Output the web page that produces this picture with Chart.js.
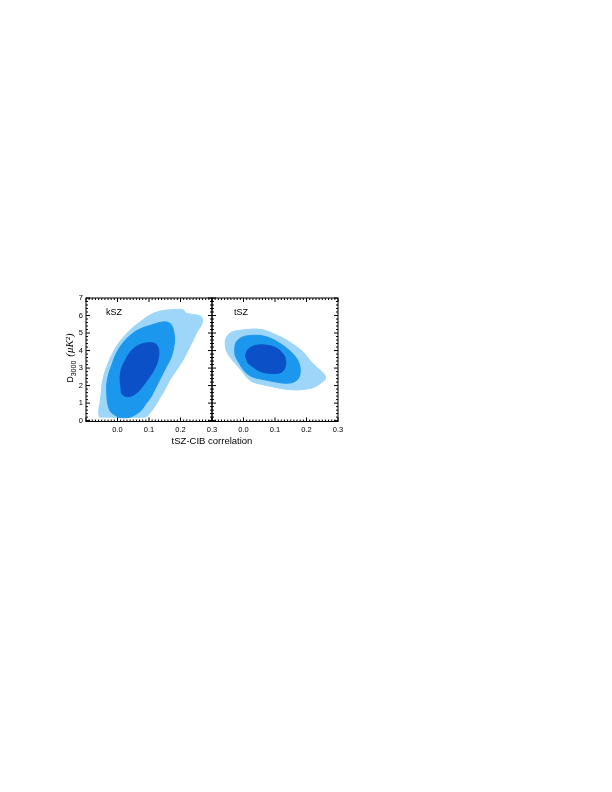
<!DOCTYPE html>
<html>
<head>
<meta charset="utf-8">
<script src="https://cdn.jsdelivr.net/npm/chart.js@4.4.1/dist/chart.umd.min.js"></script>
<style>
  html, body { margin: 0; padding: 0; background: #fff; }
  #wrap { position: relative; width: 612px; height: 792px; }
  canvas { position: absolute; left: 0; top: 0; }
</style>
</head>
<body>
<div id="wrap">
  <canvas id="leftPanel" width="612" height="792" style="width:612px;height:792px"></canvas>
  <canvas id="rightPanel" width="612" height="792" style="width:612px;height:792px"></canvas>
</div>
<script>
// ---------- axis / labels ----------
const xTicks = [-0.1, 0.0, 0.1, 0.2, 0.3];
const yTicks = [0, 1, 2, 3, 4, 5, 6, 7];
const panelLabels = ['kSZ', 'tSZ'];
const xTitle = 'tSZ-CIB correlation';
const yTitleMain = 'D', yTitleSub = '3000', yTitleUnit = '(\u03bcK\u00b2)';

// ---------- kSZ panel contours [x, y] ----------
const kszOuter = [
  [-0.058, 0.2], [-0.060, 0.58], [-0.056, 0.96], [-0.052, 1.53], [-0.049, 2.09],
  [-0.042, 2.66], [-0.031, 3.23], [-0.017, 3.79], [0.001, 4.36], [0.022, 4.83],
  [0.048, 5.30], [0.075, 5.68], [0.106, 6.06], [0.143, 6.28], [0.180, 6.34],
  [0.207, 6.34], [0.217, 6.15], [0.239, 6.06], [0.265, 5.96], [0.270, 5.68],
  [0.265, 5.40], [0.254, 5.11], [0.239, 4.55], [0.223, 3.98], [0.207, 3.42],
  [0.186, 2.85], [0.165, 2.28], [0.149, 1.72], [0.133, 1.25], [0.117, 0.77],
  [0.101, 0.40], [0.090, 0.2], [-0.058, 0.2]
];
const kszMiddle = [
  [0.006, 0.17], [-0.021, 0.49], [-0.031, 0.96], [-0.034, 1.53], [-0.034, 2.09],
  [-0.028, 2.66], [-0.017, 3.23], [-0.005, 3.79], [0.014, 4.36], [0.038, 4.83],
  [0.069, 5.21], [0.106, 5.45], [0.149, 5.64], [0.170, 5.49], [0.180, 4.92],
  [0.180, 4.36], [0.170, 3.60], [0.154, 3.04], [0.138, 2.47], [0.122, 1.91],
  [0.106, 1.34], [0.090, 0.96], [0.075, 0.58], [0.053, 0.30], [0.032, 0.17],
  [0.006, 0.17]
];
const kszInner = [
  [0.011, 1.91], [0.008, 2.47], [0.014, 3.04], [0.027, 3.51], [0.043, 3.98],
  [0.069, 4.32], [0.101, 4.45], [0.122, 4.36], [0.131, 3.98], [0.128, 3.42],
  [0.117, 2.94], [0.101, 2.47], [0.085, 2.09], [0.069, 1.72], [0.048, 1.43],
  [0.027, 1.38], [0.014, 1.53], [0.011, 1.91]
];

// ---------- tSZ panel contours [x, y] ----------
const tszOuter = [
  [-0.058, 4.55], [-0.052, 4.83], [-0.037, 5.06], [-0.015, 5.15], [0.016, 5.21],
  [0.043, 5.23], [0.069, 5.15], [0.101, 4.92], [0.133, 4.64], [0.165, 4.26],
  [0.191, 3.89], [0.212, 3.42], [0.239, 2.94], [0.258, 2.62], [0.260, 2.38],
  [0.249, 2.19], [0.228, 1.94], [0.202, 1.81], [0.165, 1.75], [0.128, 1.81],
  [0.090, 1.94], [0.059, 2.06], [0.022, 2.28], [-0.015, 3.04], [-0.042, 3.60],
  [-0.056, 4.08], [-0.058, 4.55]
];
const tszMiddle = [
  [-0.028, 4.08], [-0.024, 4.45], [-0.007, 4.74], [0.016, 4.85], [0.048, 4.87],
  [0.080, 4.74], [0.112, 4.45], [0.141, 4.08], [0.165, 3.64], [0.177, 3.23],
  [0.180, 2.75], [0.173, 2.38], [0.154, 2.17], [0.122, 2.15], [0.090, 2.25],
  [0.059, 2.36], [0.027, 2.51], [0.004, 2.81], [-0.013, 3.26], [-0.026, 3.70],
  [-0.028, 4.08]
];
const tszInner = [
  [0.006, 3.70], [0.011, 3.98], [0.025, 4.21], [0.048, 4.32], [0.075, 4.30],
  [0.101, 4.17], [0.122, 3.89], [0.133, 3.51], [0.133, 3.13], [0.124, 2.81],
  [0.106, 2.70], [0.080, 2.70], [0.053, 2.81], [0.032, 3.04], [0.014, 3.32],
  [0.006, 3.70]
];

const colInner = '#0b50c6';
const colMiddle = '#1c97ee';
const colOuter = '#9dd6f8';

function contourSet(pts, color) {
  return {
    data: pts.map(p => ({ x: p[0], y: p[1] })),
    showLine: true,
    fill: 'shape',
    backgroundColor: color,
    borderColor: color,
    borderWidth: 1,
    pointRadius: 0,
    pointHoverRadius: 0,
    tension: 0.35
  };
}

function framePlugin(label, labelDx, withYTitle, withXTitle) {
  return {
    id: 'frame',
    afterDraw(chart) {
      const { ctx, chartArea: a } = chart;
      const xs = chart.scales.x, ys = chart.scales.y;
      ctx.save();
      ctx.strokeStyle = '#000';
      ctx.lineWidth = 1;
      ctx.strokeRect(a.left, a.top, a.right - a.left, a.bottom - a.top);
      ctx.beginPath();
      for (let i = 0; i < xTicks.length; i++) {
        const n = i < xTicks.length - 1 ? 10 : 1;
        for (let k = 0; k < n; k++) {
          const v = i < xTicks.length - 1 ? xTicks[i] + (xTicks[i + 1] - xTicks[i]) * k / 10 : xTicks[i];
          const L = k === 0 ? 4 : 2;
          const px = xs.getPixelForValue(v);
          ctx.moveTo(px, a.bottom); ctx.lineTo(px, a.bottom - L);
          ctx.moveTo(px, a.top); ctx.lineTo(px, a.top + L);
        }
      }
      for (let i = 0; i < yTicks.length; i++) {
        const n = i < yTicks.length - 1 ? 5 : 1;
        for (let k = 0; k < n; k++) {
          const v = i < yTicks.length - 1 ? yTicks[i] + (yTicks[i + 1] - yTicks[i]) * k / 5 : yTicks[i];
          const L = k === 0 ? 4 : 2;
          const py = ys.getPixelForValue(v);
          ctx.moveTo(a.left, py); ctx.lineTo(a.left + L, py);
          ctx.moveTo(a.right, py); ctx.lineTo(a.right - L, py);
        }
      }
      ctx.stroke();

      ctx.fillStyle = '#000';
      ctx.font = '9px "Liberation Sans", Arial, sans-serif';
      ctx.textBaseline = 'alphabetic';
      ctx.textAlign = 'left';
      ctx.fillText(label, a.left + labelDx, a.top + 17);

      if (withXTitle) {
        ctx.textAlign = 'center';
        ctx.textBaseline = 'middle';
        ctx.font = '9.5px "Liberation Sans", Arial, sans-serif';
        ctx.fillText(xTitle, a.right, a.bottom + 20);
      }
      if (withYTitle) {
        const f1 = '9px "Liberation Sans", Arial, sans-serif';
        const f2 = '7px "Liberation Sans", Arial, sans-serif';
        const f3 = 'italic 11px "Liberation Serif", serif';
        ctx.font = f1; const w1 = ctx.measureText(yTitleMain).width;
        ctx.font = f2; const w2 = ctx.measureText(yTitleSub).width;
        ctx.font = f3; const w3 = ctx.measureText(yTitleUnit).width;
        const gap = 4;
        const total = w1 + w2 + gap + w3;
        ctx.translate(70, 358);
        ctx.rotate(-Math.PI / 2);
        ctx.textAlign = 'left';
        ctx.textBaseline = 'alphabetic';
        let u = -total / 2;
        ctx.font = f1; ctx.fillText(yTitleMain, u, 3); u += w1;
        ctx.font = f2; ctx.fillText(yTitleSub, u, 5.5); u += w2 + gap;
        ctx.font = f3; ctx.fillText(yTitleUnit, u, 3);
      }
      ctx.restore();
    }
  };
}

function makeChart(id, sets, showY, padding, plugin) {
  return new Chart(document.getElementById(id), {
    type: 'scatter',
    data: { datasets: sets },
    options: {
      responsive: false,
      animation: false,
      events: [],
      layout: { padding },
      plugins: { legend: { display: false }, tooltip: { enabled: false }, title: { display: false } },
      scales: {
        x: {
          type: 'linear', min: -0.1, max: 0.3,
          afterBuildTicks: s => { s.ticks = xTicks.map(v => ({ value: v })); },
          afterFit: s => { s.height = 16; },
          grid: { display: false, drawTicks: false, tickLength: 0 }, border: { display: false },
          ticks: {
            autoSkip: false, maxRotation: 0, minRotation: 0, padding: 4, color: '#000',
            font: { family: '"Liberation Sans", Arial, sans-serif', size: 7.5 },
            callback: v => (v < -0.05 ? '' : v.toFixed(1))
          }
        },
        y: {
          type: 'linear', min: -0.05, max: 7.0, display: showY,
          afterBuildTicks: s => { s.ticks = yTicks.map(v => ({ value: v })); },
          afterFit: s => { s.width = showY ? 30 : 0; },
          grid: { display: false, drawTicks: false, tickLength: 0 }, border: { display: false },
          ticks: {
            autoSkip: false, padding: 3, color: '#000',
            font: { family: '"Liberation Sans", Arial, sans-serif', size: 7.5 },
            callback: v => String(v)
          }
        }
      }
    },
    plugins: [plugin]
  });
}

makeChart('leftPanel',
  [contourSet(kszInner, colInner), contourSet(kszMiddle, colMiddle), contourSet(kszOuter, colOuter)],
  true, { left: 56, right: 400, top: 298, bottom: 354.5 },
  framePlugin(panelLabels[0], 20, true, true));

makeChart('rightPanel',
  [contourSet(tszInner, colInner), contourSet(tszMiddle, colMiddle), contourSet(tszOuter, colOuter)],
  false, { left: 212, right: 274, top: 298, bottom: 354.5 },
  framePlugin(panelLabels[1], 22, false, false));
</script>
</body>
</html>
